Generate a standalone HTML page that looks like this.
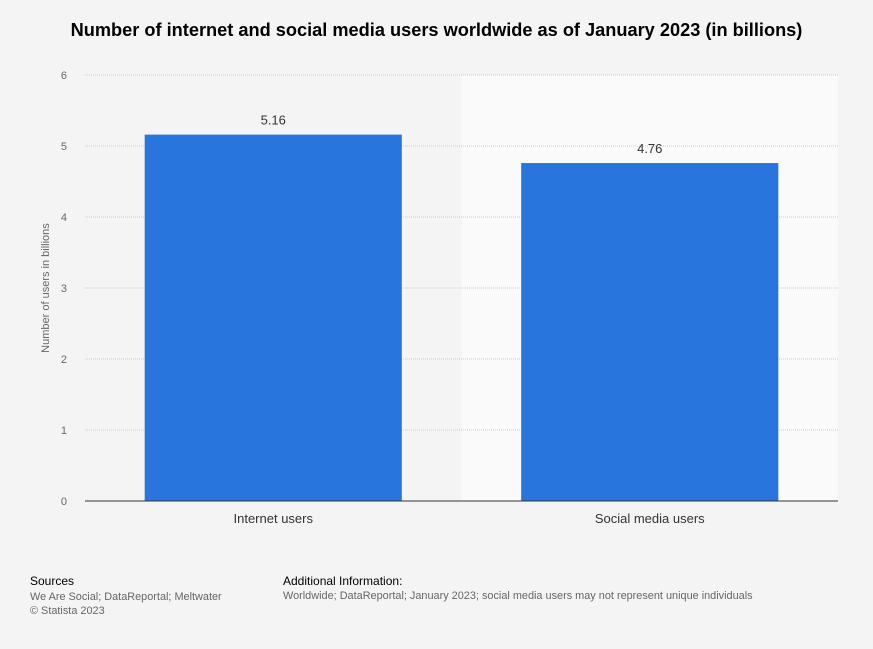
<!DOCTYPE html>
<html><head><meta charset="utf-8"><style>
body{margin:0;width:873px;height:649px;background:#f4f4f4;font-family:"Liberation Sans",sans-serif;overflow:hidden;position:relative}
.t{position:absolute;white-space:nowrap}
</style></head><body>
<div class="t" style="left:0;width:873px;text-align:center;top:20px;font-size:18.2px;font-weight:bold;color:#000">Number of internet and social media users worldwide as of January 2023 (in billions)</div>
<svg id="c" width="873" height="649" style="position:absolute;left:0;top:0"></svg>
<div class="t" style="left:30px;top:574px;font-size:12px;color:#000">Sources</div>
<div class="t" style="left:30px;top:590px;font-size:10.9px;color:#666;line-height:14px">We Are Social; DataReportal; Meltwater<br>© Statista 2023</div>
<div class="t" style="left:283px;top:574px;font-size:12px;color:#000">Additional Information:</div>
<div class="t" style="left:283px;top:590px;font-size:10.9px;color:#666">Worldwide; DataReportal; January 2023; social media users may not represent unique individuals</div>
<script>
const categories=["Internet users","Social media users"];
const values=[5.16,4.76];
const ticks=[0,1,2,3,4,5,6];
const svg=document.getElementById('c');
const NS='http://www.w3.org/2000/svg';
const x0=85,x1=838,yTop=75,yBot=501,ymax=6;
const y=v=>yBot-(v/ymax)*(yBot-yTop);
const bw=(x1-x0)/categories.length;
const xc=i=>x0+bw*(i+0.5);
function mk(t,a){const e=document.createElementNS(NS,t);for(const k in a)e.setAttribute(k,a[k]);svg.appendChild(e);return e;}
let bg=mk('rect',{x:x0+bw,y:yTop,width:bw,height:yBot-yTop,fill:'#fafafa'});


ticks.forEach(t=>{
 if(t>0){let g=mk('line',{x1:x0,x2:x1,y1:y(t),y2:y(t),stroke:'#ccc','stroke-dasharray':'1,1'});
 
 }
 let l=mk('text',{x:67,y:y(t)+4,'font-size':11,fill:'#666','text-anchor':'end'});l.textContent=t;
 
 
});
values.forEach((v,i)=>{
 let w=bw*0.683;
 let r=mk('rect',{x:xc(i)-w/2,y:y(v),width:w,height:yBot-y(v),fill:'#2876dd'});
 
 
 let lb=mk('text',{x:xc(i),y:y(v)-10,'font-size':13,fill:'#333','text-anchor':'middle'});lb.textContent=v.toFixed(2);
 
 
 let cl=mk('text',{x:xc(i),y:523,'font-size':13,fill:'#333','text-anchor':'middle'});cl.textContent=categories[i];
 
 
});
let ax=mk('line',{x1:x0,x2:x1,y1:yBot,y2:yBot,stroke:'#333','stroke-width':1});


let yt=mk('text',{x:0,y:0,'font-size':11,fill:'#666','text-anchor':'middle',transform:'translate(49,288) rotate(-90)'});yt.textContent='Number of users in billions';


</script>
</body></html>
